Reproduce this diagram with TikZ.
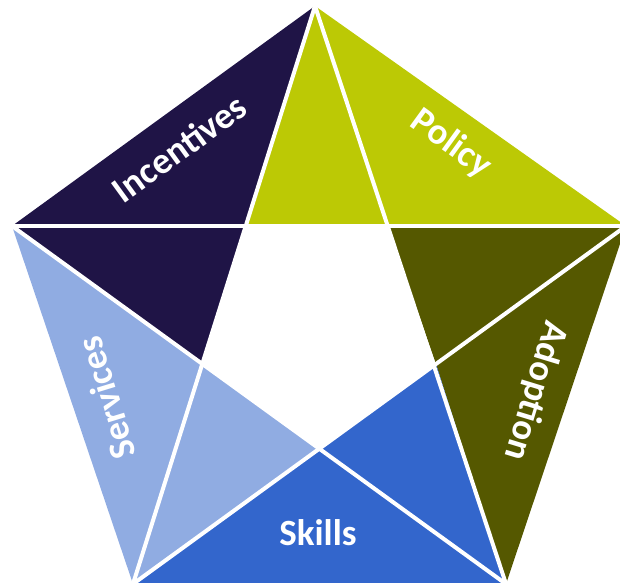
\documentclass[tikz,border=0pt]{standalone}
\usepackage{fontspec}
\setmainfont{Carlito}
\definecolor{navy}{HTML}{1F1446}
\definecolor{lime}{HTML}{BCC905}
\definecolor{olive}{HTML}{555800}
\definecolor{midblue}{HTML}{3366CC}
\definecolor{lightblue}{HTML}{90ACE2}
\tikzset{
  seam/.style={draw=white,line width=4pt},
  lbl/.style={text=white,font=\fontsize{37}{40}\selectfont\bfseries,inner sep=0pt,anchor=center}
}
\begin{document}
\begin{tikzpicture}[x=1pt,y=-1pt]
\useasboundingbox (0,0) rectangle (620,582);
\clip (0,0) rectangle (620,582);
\coordinate (T) at (315,6);
\coordinate (R) at (626,226);
\coordinate (BR) at (506,584);
\coordinate (BL) at (133,584);
\coordinate (L) at (12,226);
\coordinate (a) at (246,226);
\coordinate (b) at (388,226);
\coordinate (c) at (436,364);
\coordinate (d) at (319,449);
\coordinate (e) at (202,364);
\fill[navy] (T) -- (L) -- (e) -- (a) -- cycle;
\fill[lime] (T) -- (a) -- (b) -- cycle;
\fill[lime] (T) -- (R) -- (b) -- cycle;
\fill[olive] (R) -- (BR) -- (c) -- (b) -- cycle;
\fill[midblue] (BR) -- (BL) -- (d) -- (c) -- cycle;
\fill[lightblue] (BL) -- (L) -- (e) -- (d) -- cycle;
\draw[seam] (T) -- (BL);
\draw[seam] (T) -- (BR);
\draw[seam] (L) -- (R);
\draw[seam] (L) -- (BR);
\draw[seam] (R) -- (BL);
\node[lbl,rotate=36] (inc) at (179,148) {Incentives};
\node[lbl,rotate=-36] (pol) at (451,144) {Policy};
\node[lbl,rotate=-107] (ado) at (535,391) {Adoption};
\node[lbl] (ski) at (318,533) {Skills};
\node[lbl,rotate=107] (ser) at (106,398) {Services};
\end{tikzpicture}
\end{document}
